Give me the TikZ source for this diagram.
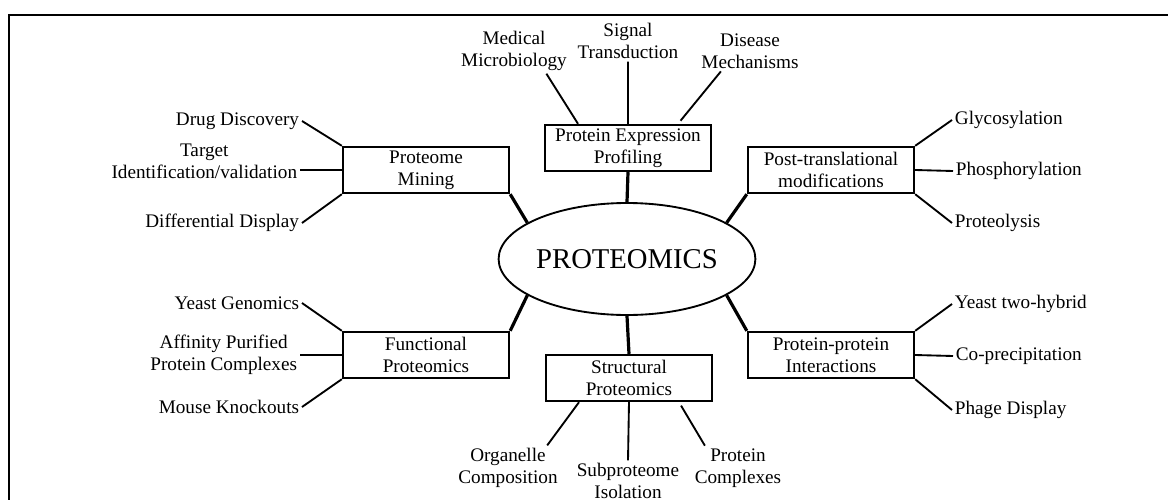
\documentclass[tikz,border=0pt]{standalone}
\usepackage{fontspec}
\setmainfont{Liberation Serif}
\usetikzlibrary{shapes.geometric}

\begin{document}
\begin{tikzpicture}[x=0.75pt,y=-0.75pt]
\tikzset{
every node/.style = {font=\fontsize{14.4}{16.5}\selectfont},
topic/.style = {draw,fill=white,line width=1.3pt,minimum width=125pt,minimum height=35pt,align=center,inner sep=2pt},
core/.style = {draw,fill=white,ellipse,line width=1.4pt,minimum width=163pt,minimum height=84pt,inner sep=0pt,font=\fontsize{21.5}{24}\selectfont},
leaf/.style = {align=center,inner sep=2pt},
trunk/.style = {line width=2.4pt},
twig/.style = {line width=1.4pt},
}
\useasboundingbox (0,0) rectangle (1168,500);
\draw[line width=1.5pt] (9,500) -- (9,15) -- (1168,15);
    %
% Centre and the six topics.
\node[core] (prot) at (627,259) {PROTEOMICS};
\node[topic] (exp) at (628,148) {Protein Expression\\Profiling};
\node[topic] (pm) at (426,170) {Proteome\\Mining};
\node[topic] (ptm) at (831,170) {Post-translational\\modifications};
\node[topic] (fp) at (426,355) {Functional\\Proteomics};
\node[topic] (ppi) at (831,355) {Protein-protein\\Interactions};
\node[topic] (sp) at (629,378) {Structural\\Proteomics};

\draw[trunk]
(exp.south) -- (prot.north)
(pm.south east) -- (prot.160)
(ptm.south west) -- (prot.20)
(fp.north east) -- (prot.200)
(ppi.north west) -- (prot.-20)
(sp.north) -- (prot.south);

% Top.
\node[leaf] (med) at (514,51) {Medical\\Microbiology};
\node[leaf] (sig) at (628,41) {Signal\\Transduction};
\node[leaf] (dis) at (750,51) {Disease\\Mechanisms};
\draw[twig,shorten <=3pt]
([xshift=-37.5pt]exp.north) -- (med.-35)
(exp.north) -- (sig.south)
([xshift=37.5pt]exp.north) -- (dis.-145);

% Left, upper.
\node[leaf,anchor=east] (drug) at (302,121) {Drug Discovery};
\node[leaf,anchor=east] (tgt) at (300,161) {Target\\Identification/validation};
\node[leaf,anchor=east] (diff) at (302,223) {Differential Display};
\draw[twig]
(pm.north west) -- (drug.east)
(pm.west) -- (pm.west -| tgt.east)
(pm.south west) -- (diff.east);

% Right, upper.
\node[leaf,anchor=west] (gly) at (952,120) {Glycosylation};
\node[leaf,anchor=west] (phos) at (953,171) {Phosphorylation};
\node[leaf,anchor=west] (lysis) at (952,223) {Proteolysis};
\draw[twig]
(ptm.north east) -- (gly.west)
(ptm.east) -- (phos.west)
(ptm.south east) -- (lysis.west);

% Left, lower.
\node[leaf,anchor=east] (yg) at (302,303) {Yeast Genomics};
\node[leaf,anchor=east] (aff) at (300,355) {Affinity Purified\\Protein Complexes};
\node[leaf,anchor=east] (mk) at (302,407) {Mouse Knockouts};
\draw[twig]
(fp.north west) -- (yg.east)
(fp.west) -- (aff.east)
(fp.south west) -- (mk.east);

% Right, lower.
\node[leaf,anchor=west] (yth) at (952,304) {Yeast two-hybrid};
\node[leaf,anchor=west] (cop) at (953,356) {Co-precipitation};
\node[leaf,anchor=west] (phd) at (952,410) {Phage Display};
\draw[twig]
(ppi.north east) -- (yth.west)
(ppi.east) -- (cop.west)
(ppi.south east) -- (phd.west);

% Bottom.
\node[leaf] (org) at (508,468) {Organelle\\Composition};
\node[leaf] (sub) at (628,481) {Subproteome\\Isolation};
\node[leaf] (cplx) at (738,468) {Protein\\Complexes};
\draw[twig,shorten <=3pt]
([xshift=-37.5pt]sp.south) -- (org.30)
(sp.south) -- (sub.north)
([xshift=37.5pt]sp.south) -- (cplx.146);
    %
\end{tikzpicture}
\end{document}
